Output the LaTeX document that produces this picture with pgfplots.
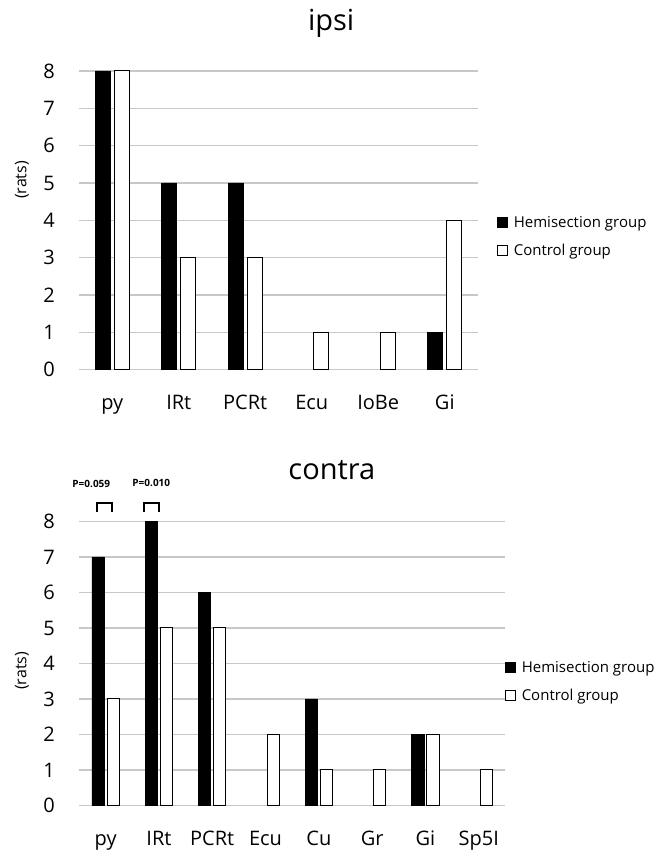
\documentclass[border=0pt]{standalone}
\usepackage{pgfplots}
\pgfplotsset{compat=1.18}
\usepackage{fontspec}
\setmainfont{Open Sans}
\definecolor{gridgray}{RGB}{200,200,200}
\pgfplotsset{
  panel/.style={
    scale only axis,
    ymin=0, ymax=8, ytick={0,1,...,8},
    enlarge x limits=false,
    axis line style={draw=none},
    major tick length=0pt,
    ymajorgrids,
    major grid style={gridgray, line width=1.2pt},
    /pgf/number format/assume math mode=true,
    yticklabel style={font=\fontsize{20}{24}\selectfont, inner sep=0pt, anchor=east, xshift=-24pt},
    xticklabel style={font=\fontsize{20}{24}\selectfont, inner sep=0pt, anchor=base, yshift=-40pt},
    clip=false,
    legend cell align=left,
    legend style={draw=none, fill=none, inner sep=0pt, outer sep=0pt, anchor=west,
      font=\fontsize{15}{18}\selectfont, row sep=10.7pt,
      nodes={inner sep=0pt, text height=14pt, text depth=3.3pt},
      /tikz/every odd column/.style={column sep=6pt}},
    title style={font=\fontsize{29}{34}\selectfont, anchor=base},
  },
  hemi/.style={fill=black, draw=black, line width=0.6pt,
    legend image code/.code={\draw[##1, line width=0.8pt] (0pt,-5pt) rectangle (10pt,5pt);}},
  ctrl/.style={fill=white, draw=black, line width=1pt,
    legend image code/.code={\draw[##1, line width=0.8pt] (0pt,-5pt) rectangle (10pt,5pt);}},
}
\begin{document}
\begin{tikzpicture}
\path (0pt,0pt) rectangle (656pt,851pt);

% ---------- ipsi ----------
\begin{axis}[panel,
  at={(79pt,481.4pt)}, anchor=south west,
  width=399pt, height=298.6pt,
  ybar=4pt, bar width=15pt,
  xmin=-0.5, xmax=5.5, xtick={0,...,5},
  xticklabels={py,IRt,PCRt,Ecu,IoBe,Gi},
  title={ipsi},
  title style={at={(axis description cs:0.632,1.114)}},
  ylabel={(rats)},
  every axis y label/.style={at={(axis description cs:-0.143,0.635)}, rotate=90, anchor=center, font=\fontsize{16}{19}\selectfont},
  legend style={at={(axis description cs:1.0476,0.447)}},
]
\addplot[hemi] coordinates {(0,8) (1,5) (2,5) (5,1)};
\addplot[ctrl] coordinates {(0,8) (1,3) (2,3) (3,1) (4,1) (5,4)};
\legend{Hemisection group, Control group}
\end{axis}

% ---------- contra ----------
\begin{axis}[panel,
  at={(79pt,45.5pt)}, anchor=south west,
  width=426.4pt, height=284pt,
  ybar=3pt, bar width=12.2pt,
  xmin=-0.5, xmax=7.5, xtick={0,...,7},
  xticklabels={py,IRt,PCRt,Ecu,Cu,Gr,Gi,Sp5I},
  title={contra},
  title style={at={(axis description cs:0.593,1.128)}},
  ylabel={(rats)},
  every axis y label/.style={at={(axis description cs:-0.134,0.474)}, rotate=90, anchor=center, font=\fontsize{16}{19}\selectfont},
  legend style={at={(axis description cs:0.999,0.438)}},
]
\addplot[hemi] coordinates {(0,7) (1,8) (2,6) (4,3) (6,2)};
\addplot[ctrl] coordinates {(0,3) (1,5) (2,5) (3,2) (4,1) (5,1) (6,2) (7,1)};
\legend{Hemisection group, Control group}
\end{axis}

% significance annotations
\node[font=\bfseries\fontsize{10}{12}\selectfont] at (91.3pt,366.6pt) {P=0.059};
\node[font=\bfseries\fontsize{10}{12}\selectfont] at (151.3pt,368pt) {P=0.010};
\draw[line width=2pt] (96.7pt,339.3pt) -- (96.7pt,348pt) -- (111.7pt,348pt) -- (111.7pt,339.3pt);
\draw[line width=2pt] (144pt,339.3pt) -- (144pt,348pt) -- (159pt,348pt) -- (159pt,339.3pt);
\end{tikzpicture}
\end{document}
